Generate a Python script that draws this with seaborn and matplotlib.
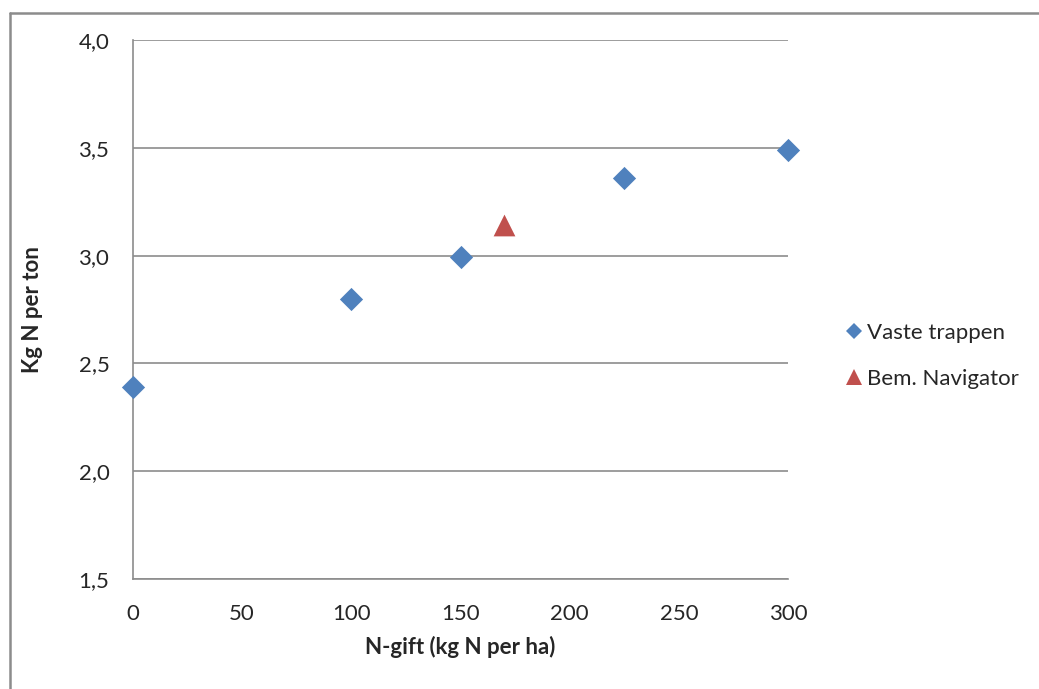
import matplotlib
matplotlib.use("Agg")
import matplotlib.pyplot as plt
from matplotlib.lines import Line2D
import seaborn as sns
import pandas as pd

# Data
vaste_x = [0, 100, 150, 225, 300]
vaste_y = [2.39, 2.80, 2.995, 3.36, 3.49]
nav_x = [170]
nav_y = [3.14]
series_names = ["Vaste trappen", "Bem. Navigator"]
x_ticks = [0, 50, 100, 150, 200, 250, 300]
y_ticks = [1.5, 2.0, 2.5, 3.0, 3.5, 4.0]
x_label = "N-gift (kg N per ha)"
y_label = "Kg N per ton"

sns.set_style("white")
plt.rcParams["font.family"] = ["Lato", "DejaVu Sans"]

blue = "#4F81BD"
red = "#C0504D"
grid_c = "#8C8C8C"
text_c = "#262626"

fig = plt.figure(figsize=(10.39, 6.89), dpi=100)
ax = fig.add_axes([133/1039, 1 - 579/689, (788-133)/1039, (579-40)/689])

df1 = pd.DataFrame({"x": vaste_x, "y": vaste_y})
df2 = pd.DataFrame({"x": nav_x, "y": nav_y})
sns.scatterplot(data=df1, x="x", y="y", ax=ax, marker="D", s=140, color=blue,
                linewidth=0, zorder=3, clip_on=False)
sns.scatterplot(data=df2, x="x", y="y", ax=ax, marker="^", s=245, color=red,
                linewidth=0, zorder=3, clip_on=False)

ax.set_xlim(0, 300)
ax.set_ylim(1.5, 4.0)
ax.set_xticks(x_ticks)
ax.set_yticks(y_ticks)
ax.set_xticklabels([str(v) for v in x_ticks])
ax.set_yticklabels([f"{v:.1f}".replace(".", ",") for v in y_ticks])

ax.yaxis.grid(True, color=grid_c, linewidth=1.2)
ax.xaxis.grid(False)
ax.set_axisbelow(True)
for side in ["top", "right"]:
    ax.spines[side].set_visible(False)
for side in ["left", "bottom"]:
    ax.spines[side].set_color(grid_c)
    ax.spines[side].set_linewidth(1.2)

ax.tick_params(axis="both", which="major", direction="out", length=5,
               width=1.2, color=grid_c, labelsize=16, labelcolor=text_c)
ax.tick_params(axis="y", pad=12)
ax.tick_params(axis="x", pad=13)

ax.set_xlabel(x_label, fontsize=16, fontweight="bold", color=text_c)
ax.set_ylabel(y_label, fontsize=16, fontweight="bold", color=text_c)
ax.yaxis.set_label_coords(-0.137, 0.5)
ax.xaxis.set_label_coords(0.5, -0.105)

handles = [
    Line2D([], [], linestyle="none", marker="D", markersize=8.5, color=blue, markeredgewidth=0),
    Line2D([], [], linestyle="none", marker="^", markersize=11.5, color=red, markeredgewidth=0),
]
fig.legend(handles, series_names, loc="center left", bbox_to_anchor=(845/1039, 1 - 356/689),
           frameon=False, fontsize=16, handlelength=0.8, handletextpad=0.2,
           labelspacing=1.15, labelcolor=text_c, borderpad=0, borderaxespad=0)

# outer chart frame (partial, as cropped)
fig.add_artist(Line2D([10/1039, 10/1039], [0, 1 - 13/689], transform=fig.transFigure,
                      color="#8C8C8C", linewidth=1.8))
fig.add_artist(Line2D([10/1039, 1], [1 - 13/689, 1 - 13/689], transform=fig.transFigure,
                      color="#8C8C8C", linewidth=1.8))

fig.savefig("out.png", dpi=100)
